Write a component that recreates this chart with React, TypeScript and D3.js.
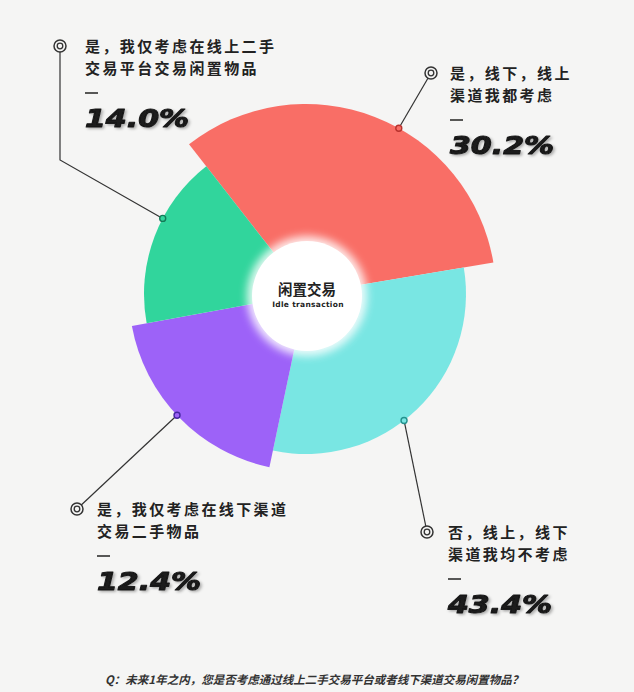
import React from "react";
import * as d3 from "d3";

// ---- data ----
const categories = [
  "是，线下，线上渠道我都考虑",
  "否，线上，线下渠道我均不考虑",
  "是，我仅考虑在线下渠道交易二手物品",
  "是，我仅考虑在线上二手交易平台交易闲置物品",
];
const labelLines = [
  ["是，线下，线上", "渠道我都考虑"],
  ["否，线上，线下", "渠道我均不考虑"],
  ["是，我仅考虑在线下渠道", "交易二手物品"],
  ["是，我仅考虑在线上二手", "交易平台交易闲置物品"],
];
const percents = [30.2, 43.4, 12.4, 14.0];
// angular share each sector occupies in the drawing (degrees)
const sectorShares = [118.5, 111.5, 67.7, 62.4];
const centerTitle = "闲置交易";
const centerSub = "Idle transaction";
const question = "Q：未来1年之内，您是否考虑通过线上二手交易平台或者线下渠道交易闲置物品？";

// ---- styling / layout ----
const W = 634;
const H = 692;
const CX = 306;
const CY = 294;
const BG = "#f5f5f4";
const colors = ["#f96e66", "#79e6e3", "#9d62f8", "#31d59c"];
const dotColors = ["#b8322d", "#23918d", "#4426a0", "#137a57"];
const outerRadii = [190, 160, 177, 162];
const startDeg = -38;
// label anchor (target symbol) positions
const targets = [
  { x: 431, y: 73, dx: 19, elbow: null as null | [number, number] },
  { x: 427, y: 532, dx: 21, elbow: null },
  { x: 77, y: 509, dx: 20, elbow: null },
  { x: 60, y: 46, dx: 25, elbow: [60, 160] as [number, number] },
];
const leaderOffsetDeg = [8, 6, 1, 7];

export default function App() {
  const rad = Math.PI / 180;
  const data = categories.map((c, i) => ({ c, i, share: sectorShares[i], pct: percents[i] }));
  const pie = d3
    .pie<any>()
    .sort(null)
    .value((d) => d.share)
    .startAngle(startDeg * rad)
    .endAngle((startDeg + 360) * rad);
  const arcs = pie(data);
  const arcGen = d3.arc<any>().innerRadius(0).padAngle(0);

  const fmt = d3.format(".1f");

  return (
    <svg
      width={W}
      height={H}
      style={{ position: "absolute", left: 0, top: 0, background: BG }}
    >
      <defs>
        <filter id="glow" x="-50%" y="-50%" width="200%" height="200%">
          <feGaussianBlur stdDeviation="4" />
        </filter>
        <filter id="pshadow" x="-10%" y="-20%" width="130%" height="160%">
          <feDropShadow dx="1.5" dy="1.5" stdDeviation="1.3" floodColor="#000" floodOpacity="0.3" />
        </filter>
      </defs>
      <rect width={W} height={H} fill={BG} />
      <g transform={`translate(${CX},${CY})`}>
        {arcs.map((a, i) => (
          <path
            key={i}
            d={arcGen.outerRadius(outerRadii[i])(a) || ""}
            fill={colors[i]}
          />
        ))}
        <circle r={60} fill="#ffffff" opacity={0.85} filter="url(#glow)" cx={1} cy={2} />
        <circle r={55} fill="#ffffff" cx={1} cy={2} />
        <text
          x={1}
          y={1}
          textAnchor="middle"
          fontFamily="'Noto Sans CJK SC', sans-serif"
          fontWeight={700}
          fontSize={14.5}
          fill="#222"
        >
          {centerTitle}
        </text>
        <text
          x={2}
          y={13}
          textAnchor="middle"
          fontFamily="'DejaVu Sans', sans-serif"
          fontWeight={700}
          fontSize={7.5}
          letterSpacing={0.3}
          fill="#222"
        >
          {centerSub}
        </text>
      </g>

      {arcs.map((a, i) => {
        const ang = (a.startAngle + a.endAngle) / 2 + leaderOffsetDeg[i] * rad;
        const r = outerRadii[i];
        const px = CX + r * Math.sin(ang);
        const py = CY - r * Math.cos(ang);
        const t = targets[i];
        const pts: [number, number][] = [[t.x, t.y]];
        if (t.elbow) pts.push(t.elbow);
        pts.push([px, py]);
        const line = d3.line()(pts) || "";
        const tx = t.x + t.dx;
        return (
          <g key={"lab" + i}>
            <path d={line} fill="none" stroke="#333" strokeWidth={1.2} />
            <circle cx={px} cy={py} r={3} fill={colors[i]} stroke={dotColors[i]} strokeWidth={1.4} />
            <circle cx={t.x} cy={t.y} r={6} fill={BG} stroke="#333" strokeWidth={1.5} />
            <circle cx={t.x} cy={t.y} r={2.8} fill="none" stroke="#333" strokeWidth={1.3} />
            {labelLines[i].map((ln, k) => (
              <text
                key={k}
                x={tx}
                y={t.y + 6 + k * 22}
                fontFamily="'Noto Sans CJK SC', sans-serif"
                fontWeight={700}
                fontSize={15}
                letterSpacing={2.4}
                fill="#222"
              >
                {ln}
              </text>
            ))}
            <line x1={tx} x2={tx + 13} y1={t.y + 47} y2={t.y + 47} stroke="#222" strokeWidth={1.5} />
            <text
              transform={`translate(${tx},${t.y + 81}) scale(1.2,1)`}
              fontFamily="'DejaVu Sans', sans-serif"
              fontWeight={700}
              fontStyle="italic"
              fontSize={25}
              fill="#1a1a1a"
              stroke="#1a1a1a"
              strokeWidth={1.1}
              strokeLinejoin="round"
              filter="url(#pshadow)"
            >
              {fmt(a.data.pct) + "%"}
            </text>
          </g>
        );
      })}

      <text
        x={105}
        y={684}
        fontFamily="'Noto Sans CJK SC', sans-serif"
        fontWeight={700}
        fontStyle="italic"
        fontSize={11.5}
        fill="#333"
      >
        {question}
      </text>
    </svg>
  );
}
